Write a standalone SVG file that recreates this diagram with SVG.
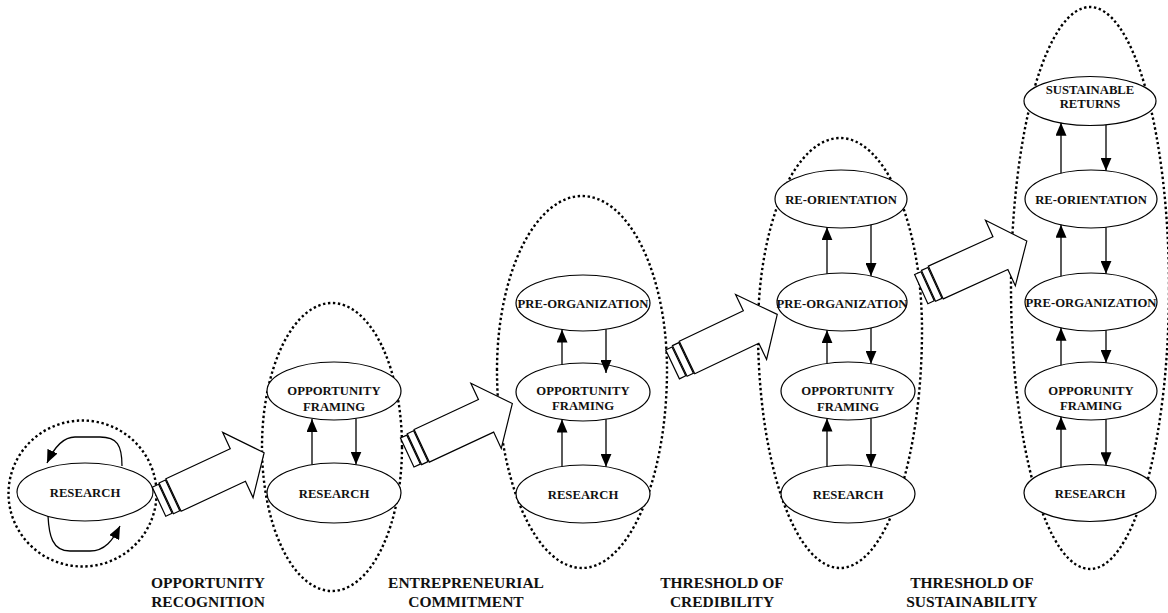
<svg xmlns="http://www.w3.org/2000/svg" width="1168" height="613" viewBox="0 0 1168 613">
<style>
.stage{fill:none;stroke:#000;stroke-width:2.4;stroke-dasharray:2.4 2.6}
.node ellipse{fill:#fff;stroke:#000;stroke-width:1.2}
.node text{font-family:"Liberation Serif","Times New Roman",serif;font-weight:bold;font-size:12.7px;fill:#111;text-anchor:middle}
.flow{fill:none;stroke:#000;stroke-width:1.3;marker-end:url(#ah)}
.big{fill:#fff;stroke:#000;stroke-width:1.2;stroke-linejoin:miter}
.label{font-family:"Liberation Serif","Times New Roman",serif;font-weight:bold;font-size:15.5px;fill:#111;text-anchor:middle}
</style>
<defs>
<marker id="ah" viewBox="0 0 13 11" refX="13" refY="5.5" markerWidth="13" markerHeight="11" markerUnits="userSpaceOnUse" orient="auto">
<path d="M0,0 L13,5.5 L0,11 z" fill="#000"/>
</marker>
<g id="bigArrow">
<rect class="big" x="-16" y="-16" width="7" height="32"/>
<rect class="big" x="-8" y="-17" width="7" height="34"/>
<path class="big" d="M0,-18 H71 V-36 L100,0 L71,36 V18 H0 Z"/>
</g>
</defs>
<rect width="1168" height="613" fill="#fff"/>

<g id="stages">
<ellipse class="stage" cx="82.5" cy="493.5" rx="74" ry="73"/>
<ellipse class="stage" cx="332" cy="447" rx="70" ry="144"/>
<path class="stage" d="M497,370 A85,174 0 0 1 667,370 A85,198 0 0 1 497,370 Z"/>
<path class="stage" d="M758,330 A82,192 0 0 1 922,330 A82,238 0 0 1 758,330 Z"/>
<ellipse class="stage" cx="1090" cy="288" rx="79" ry="281"/>
</g>

<g id="transitions">
<use href="#bigArrow" transform="translate(173.5,495) rotate(-25)"/>
<use href="#bigArrow" transform="translate(421.7,445.8) rotate(-25)"/>
<use href="#bigArrow" transform="translate(687,357.5) rotate(-25.5)"/>
<use href="#bigArrow" transform="translate(935.8,282.5) rotate(-24.5)"/>
</g>

<g id="n1-research" class="node"><ellipse cx="85" cy="492" rx="68" ry="29"/><text x="85" y="496.5">RESEARCH</text></g>

<g id="n2-framing" class="node"><ellipse cx="334" cy="391" rx="67" ry="29"/><text x="334" y="395">OPPORTUNITY</text><text x="334" y="410.5">FRAMING</text></g>
<g id="n2-research" class="node"><ellipse cx="334" cy="493" rx="67" ry="30"/><text x="334" y="497.5">RESEARCH</text></g>

<g id="n3-preorg" class="node"><ellipse cx="583" cy="303" rx="67" ry="28"/><text x="583" y="307.5">PRE-ORGANIZATION</text></g>
<g id="n3-framing" class="node"><ellipse cx="583" cy="392" rx="67" ry="29"/><text x="583" y="394.5">OPPORTUNITY</text><text x="583" y="410">FRAMING</text></g>
<g id="n3-research" class="node"><ellipse cx="583" cy="494" rx="67" ry="29"/><text x="583" y="498.5">RESEARCH</text></g>

<g id="n4-reorient" class="node"><ellipse cx="841" cy="199" rx="66" ry="29"/><text x="841" y="203.5">RE-ORIENTATION</text></g>
<g id="n4-preorg" class="node"><ellipse cx="842" cy="302" rx="65" ry="29"/><text x="842" y="307.5">PRE-ORGANIZATION</text></g>
<g id="n4-framing" class="node"><ellipse cx="848" cy="391" rx="67" ry="29"/><text x="848" y="395">OPPORTUNITY</text><text x="848" y="410.5">FRAMING</text></g>
<g id="n4-research" class="node"><ellipse cx="848" cy="494" rx="67" ry="29"/><text x="848" y="498.5">RESEARCH</text></g>

<g id="n5-returns" class="node"><ellipse cx="1090" cy="101" rx="66" ry="24.5"/><text x="1090" y="93.5">SUSTAINABLE</text><text x="1090" y="107.5">RETURNS</text></g>
<g id="n5-reorient" class="node"><ellipse cx="1091" cy="199" rx="66" ry="29"/><text x="1091" y="203.5">RE-ORIENTATION</text></g>
<g id="n5-preorg" class="node"><ellipse cx="1091" cy="302" rx="66" ry="29"/><text x="1091" y="306.5">PRE-ORGANIZATION</text></g>
<g id="n5-framing" class="node"><ellipse cx="1091" cy="391" rx="66" ry="29"/><text x="1091" y="394.5">OPPORUNITY</text><text x="1091" y="410">FRAMING</text></g>
<g id="n5-research" class="node"><ellipse cx="1090" cy="493" rx="66" ry="28.5"/><text x="1090" y="497.5">RESEARCH</text></g>

<g id="connectors">
<path class="flow" d="M122,466 C122,445 117,437 100,437 L75,437 C62,437 53,450 47,463"/>
<path class="flow" d="M48,516 C49,535 52,551 70,551 L90,551 C105,551 113,540 120,526"/>

<line class="flow" x1="312" y1="464.6" x2="312" y2="419"/>
<line class="flow" x1="356" y1="418.4" x2="356" y2="464.6"/>

<line class="flow" x1="562" y1="364.5" x2="562" y2="329.6"/>
<line class="flow" x1="606" y1="329.3" x2="606" y2="373"/>
<line class="flow" x1="562" y1="466.5" x2="562" y2="419.5"/>
<line class="flow" x1="606" y1="419.2" x2="606" y2="466.8"/>

<line class="flow" x1="827" y1="273.8" x2="827" y2="227.3"/>
<line class="flow" x1="871" y1="224.8" x2="871" y2="276"/>
<line class="flow" x1="827" y1="363.5" x2="827" y2="330.2"/>
<line class="flow" x1="871" y1="328" x2="871" y2="363.8"/>
<line class="flow" x1="827" y1="466.5" x2="827" y2="418.5"/>
<line class="flow" x1="871" y1="418.2" x2="871" y2="466.8"/>

<line class="flow" x1="1061" y1="173.2" x2="1061" y2="122.8"/>
<line class="flow" x1="1106" y1="124.9" x2="1106" y2="170.8"/>
<line class="flow" x1="1061" y1="276.2" x2="1061" y2="224.8"/>
<line class="flow" x1="1106" y1="227.2" x2="1106" y2="273.8"/>
<line class="flow" x1="1061" y1="365.2" x2="1061" y2="327.8"/>
<line class="flow" x1="1106" y1="330.2" x2="1106" y2="362.8"/>
<line class="flow" x1="1061" y1="467.6" x2="1061" y2="416.8"/>
<line class="flow" x1="1106" y1="419.2" x2="1106" y2="465.2"/>
</g>

<g id="labels">
<text class="label" x="208" y="588">OPPORTUNITY</text>
<text class="label" x="208" y="606.5">RECOGNITION</text>
<text class="label" x="466" y="588">ENTREPRENEURIAL</text>
<text class="label" x="466" y="606.5">COMMITMENT</text>
<text class="label" x="722" y="588">THRESHOLD OF</text>
<text class="label" x="722" y="606.5">CREDIBILITY</text>
<text class="label" x="972" y="588">THRESHOLD OF</text>
<text class="label" x="972" y="606.5">SUSTAINABILITY</text>
</g>
</svg>
